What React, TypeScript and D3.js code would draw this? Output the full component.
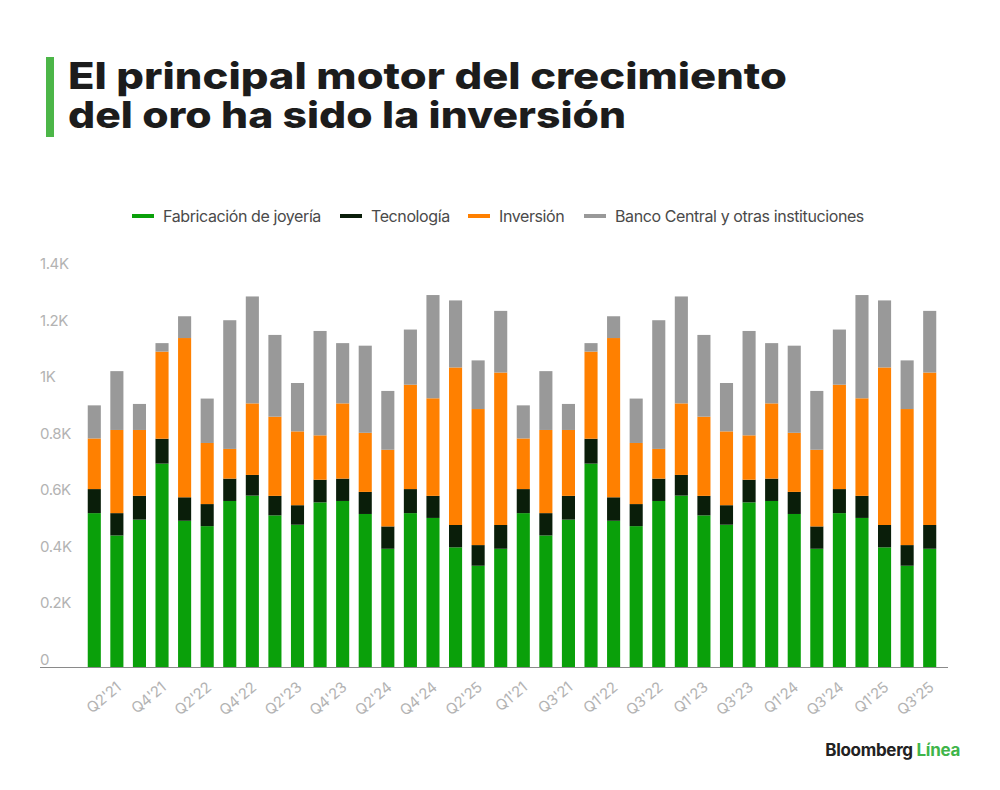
import { scaleBand, scaleLinear, stack } from "d3";

// The source chart shows the same 19 quarters twice in a row, so every series is listed twice.
const quarterLabels = [
  "Q1'21", "Q2'21", "Q3'21", "Q4'21", "Q1'22", "Q2'22", "Q3'22", "Q4'22", "Q1'23", "Q2'23",
  "Q3'23", "Q4'23", "Q1'24", "Q2'24", "Q3'24", "Q4'24", "Q1'25", "Q2'25", "Q3'25",
  "Q1'21", "Q2'21", "Q3'21", "Q4'21", "Q1'22", "Q2'22", "Q3'22", "Q4'22", "Q1'23", "Q2'23",
  "Q3'23", "Q4'23", "Q1'24", "Q2'24", "Q3'24", "Q4'24", "Q1'25", "Q2'25", "Q3'25",
];

const jewelry = [
  544, 465, 521, 719, 517, 498, 587, 606, 536, 503, 582, 587, 541, 418, 544, 527, 423, 358, 418,
  544, 465, 521, 719, 517, 498, 587, 606, 536, 503, 582, 587, 541, 418, 544, 527, 423, 358, 418,
];
const technology = [
  85, 79, 84, 88, 83, 78, 79, 73, 69, 69, 80, 79, 78, 79, 85, 78, 79, 73, 84,
  85, 79, 84, 88, 83, 78, 79, 73, 69, 69, 80, 79, 78, 79, 85, 78, 79, 73, 84,
];
const investment = [
  179, 294, 233, 308, 563, 216, 105, 253, 280, 261, 157, 266, 209, 271, 369, 345, 557, 481, 539,
  179, 294, 233, 308, 563, 216, 105, 253, 280, 261, 157, 266, 209, 271, 369, 345, 557, 481, 539,
];
const centralBanks = [
  117, 208, 92, 30, 77, 157, 455, 378, 289, 171, 369, 213, 308, 208, 195, 365, 237, 172, 218,
  117, 208, 92, 30, 77, 157, 455, 378, 289, 171, 369, 213, 308, 208, 195, 365, 237, 172, 218,
];

const seriesKeys = ["jewelry", "technology", "investment", "centralBanks"] as const;
const seriesNames = ["Fabricación de joyería", "Tecnología", "Inversión", "Banco Central y otras instituciones"];
const seriesColors = ["#0aa00a", "#0a1e0a", "#ff8000", "#999999"];

const yTickValues = [0, 200, 400, 600, 800, 1000, 1200, 1400];
const yTickLabels = ["0", "0.2K", "0.4K", "0.6K", "0.8K", "1K", "1.2K", "1.4K"];

const titleLines = ["El principal motor del crecimiento", "del oro ha sido la inversión"];

type Row = { index: number; label: string } & Record<(typeof seriesKeys)[number], number>;

export default function App() {
  const width = 1000;
  const height = 790;
  const baseY = 667;
  const topY = 271;
  const font = "Inter, 'Liberation Sans', Arial, sans-serif";

  const rows: Row[] = quarterLabels.map((label, index) => ({
    index,
    label,
    jewelry: jewelry[index],
    technology: technology[index],
    investment: investment[index],
    centralBanks: centralBanks[index],
  }));

  const x = scaleBand<number>()
    .domain(rows.map((r) => r.index))
    .range([83, 941])
    .paddingInner(0.42)
    .paddingOuter(0.21);

  const y = scaleLinear().domain([0, 1400]).range([baseY, topY]);

  const layers = stack<Row>().keys(seriesKeys as unknown as string[])(rows);

  // legend marker starts and title line widths, measured from the layout
  const legendX = [132, 340, 468, 584];
  const titleWidths = [719, 558];

  return (
    <svg
      width={width}
      height={height}
      viewBox={`0 0 ${width} ${height}`}
      style={{ position: "absolute", left: 0, top: 0, background: "#ffffff" }}
      fontFamily={font}
    >
      <rect x={0} y={0} width={width} height={height} fill="#ffffff" />

      {/* title */}
      <rect x={46} y={57} width={8} height={80} fill="#4cb648" />
      <text y={89} fontSize={37} fontWeight={800} fill="#1c1c1c">
        {titleLines.map((lineText, i) => (
          <tspan
            key={lineText}
            x={68}
            y={89 + i * 39}
            textLength={titleWidths[i]}
            lengthAdjust="spacingAndGlyphs"
          >
            {lineText}
          </tspan>
        ))}
      </text>

      {/* legend */}
      {seriesNames.map((name, i) => (
        <g key={name}>
          <line
            x1={legendX[i]}
            x2={legendX[i] + 22}
            y1={216}
            y2={216}
            stroke={seriesColors[i]}
            strokeWidth={4}
          />
          <text
            x={legendX[i] + 31}
            y={216}
            dy="0.35em"
            fontSize={16}
            fill="#4a4a4a"
            letterSpacing={-0.4}
          >
            {name}
          </text>
        </g>
      ))}

      {/* y axis labels */}
      {yTickValues.map((v, i) => (
        <text key={v} x={40} y={y(v) - 2} fontSize={15} fill="#b3b3b3" letterSpacing={-0.4}>
          {yTickLabels[i]}
        </text>
      ))}

      {/* bars */}
      {layers.map((layer, li) => (
        <g key={layer.key} fill={seriesColors[li]}>
          {layer.map((d) => (
            <rect
              key={d.data.index}
              x={x(d.data.index)}
              y={y(d[1])}
              width={x.bandwidth()}
              height={y(d[0]) - y(d[1])}
            />
          ))}
        </g>
      ))}

      {/* x axis */}
      <line x1={40} x2={948} y1={baseY + 0.5} y2={baseY + 0.5} stroke="#8a8a8a" strokeWidth={1.2} />
      {rows
        .filter((r) => r.index % 2 === 1)
        .map((r) => {
          const cx = (x(r.index) ?? 0) + x.bandwidth() / 2;
          return (
            <text
              key={r.index}
              transform={`translate(${cx + 5}, ${baseY + 22}) rotate(-40)`}
              textAnchor="end"
              fontSize={15}
              fill="#b3b3b3"
              letterSpacing={-0.3}
            >
              {r.label}
            </text>
          );
        })}

      {/* footer */}
      <text x={960} y={756} textAnchor="end" fontSize={17} fontWeight={700} letterSpacing={-0.3}>
        <tspan fill="#222222">Bloomberg </tspan>
        <tspan fill="#3fb54a">Línea</tspan>
      </text>
    </svg>
  );
}
